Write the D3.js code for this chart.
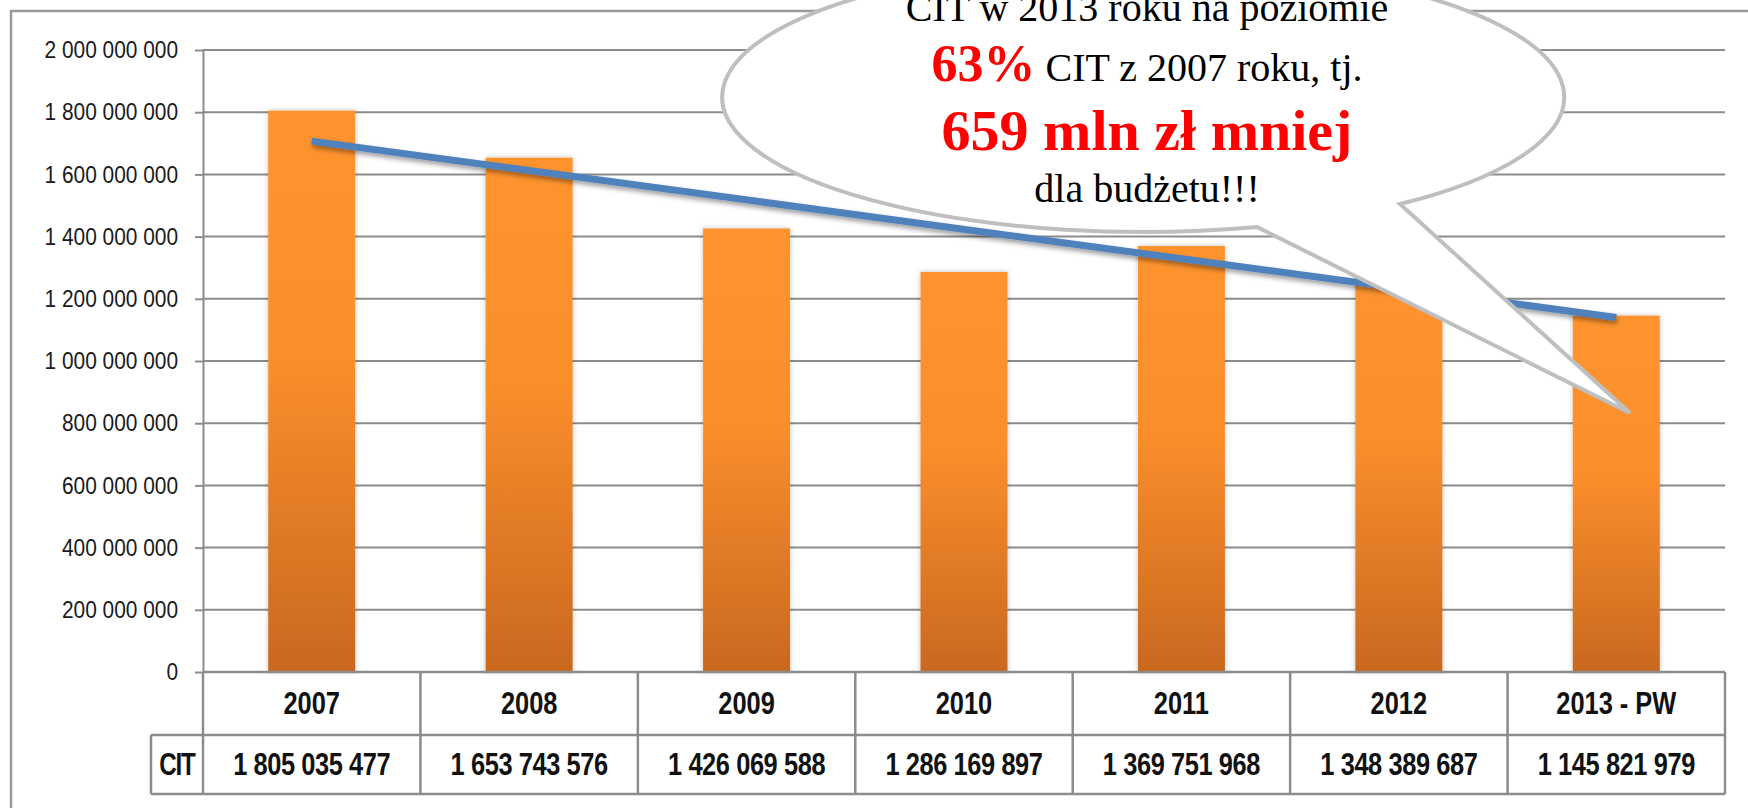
<!DOCTYPE html>
<html>
<head>
<meta charset="utf-8">
<script src="https://cdn.jsdelivr.net/npm/d3@7"></script>
<style>
  html, body { margin: 0; padding: 0; background: #ffffff; }
  svg { display: block; }
</style>
</head>
<body>
<svg id="chart" width="1748" height="808"></svg>
<script>
// ---------------- DATA ----------------
const categories = ["2007", "2008", "2009", "2010", "2011", "2012", "2013 - PW"];
const citValues = [1805035477, 1653743576, 1426069588, 1286169897, 1369751968, 1348389687, 1145821979];
const yTickValues = [0, 200000000, 400000000, 600000000, 800000000, 1000000000,
                     1200000000, 1400000000, 1600000000, 1800000000, 2000000000];
const rowLabel = "CIT";
// trend line end values (at 2007 and at 2013 - PW)
const trendCategories = ["2007", "2013 - PW"];
const trendValues = [1707000000, 1140000000];
const calloutLine1 = "CIT w 2013 roku na poziomie";
const calloutLine2Red = "63%";
const calloutLine2Black = " CIT z 2007 roku, tj.";
const calloutLine3 = "659 mln zł mniej";
const calloutLine4 = "dla budżetu!!!";

// ---------------- LAYOUT ----------------
const W = 1748, H = 808;
const plotLeft = 203, plotRight = 1725, plotTop = 50, plotBottom = 672;
const row1Bottom = 735, row2Bottom = 794, rowLabelLeft = 151;
const sansFont = "'Liberation Sans', Arial, sans-serif";
const serifFont = "'Liberation Serif', 'Times New Roman', serif";
const gridColor = "#8c8c8c";
const narrow = 0.82;      // horizontal squeeze to mimic a condensed face

const locale = d3.formatLocale({ decimal: ",", thousands: " ", grouping: [3], currency: ["", " zł"] });
const fmt = locale.format(",d");

const svg = d3.select("#chart");
const defs = svg.append("defs");

const grad = defs.append("linearGradient")
  .attr("id", "barGrad").attr("x1", 0).attr("y1", 0).attr("x2", 0).attr("y2", 1);
grad.append("stop").attr("offset", "0%").attr("stop-color", "#ff942f");
grad.append("stop").attr("offset", "45%").attr("stop-color", "#f98e2c");
grad.append("stop").attr("offset", "100%").attr("stop-color", "#c9681f");

const barShadow = defs.append("filter").attr("id", "barShadow")
  .attr("x", "-20%").attr("y", "-5%").attr("width", "140%").attr("height", "110%");
barShadow.append("feDropShadow").attr("dx", 0).attr("dy", 0).attr("stdDeviation", 2.5)
  .attr("flood-color", "#000").attr("flood-opacity", 0.25);

const lineShadow = defs.append("filter").attr("id", "lineShadow")
  .attr("x", "-5%").attr("y", "-30%").attr("width", "110%").attr("height", "160%");
lineShadow.append("feDropShadow").attr("dx", 1).attr("dy", 3).attr("stdDeviation", 2.5)
  .attr("flood-color", "#000").attr("flood-opacity", 0.4);

// outer frame (right & bottom edges run off-canvas)
svg.append("rect")
  .attr("x", 11).attr("y", 11).attr("width", 1800).attr("height", 900)
  .attr("fill", "none").attr("stroke", "#9a9a9a").attr("stroke-width", 2.5);

// ---------------- SCALES ----------------
const x = d3.scaleBand().domain(categories).range([plotLeft, plotRight])
  .paddingInner(0.6).paddingOuter(0.3);
const y = d3.scaleLinear().domain([0, 2000000000]).range([plotBottom, plotTop]);
const step = x.step();
const colEdge = i => plotLeft + i * step;

// gridlines
svg.append("g").selectAll("line").data(yTickValues).join("line")
  .attr("x1", plotLeft).attr("x2", plotRight)
  .attr("y1", d => y(d)).attr("y2", d => y(d))
  .attr("stroke", gridColor).attr("stroke-width", 2);

// y axis
const yAxis = d3.axisLeft(y).tickValues(yTickValues).tickFormat(fmt)
  .tickSizeInner(8).tickSizeOuter(0).tickPadding(17);
const yg = svg.append("g").attr("transform", `translate(${plotLeft},0)`).call(yAxis);
yg.select(".domain").attr("stroke", gridColor).attr("stroke-width", 2);
yg.selectAll(".tick line").attr("stroke", gridColor).attr("stroke-width", 2);
yg.selectAll(".tick text")
  .attr("x", null)
  .attr("transform", "translate(-25,0) scale(0.87,1)")
  .attr("font-family", sansFont).attr("font-size", 24).attr("fill", "#1a1a1a");

// bars
svg.append("g").selectAll("rect").data(categories).join("rect")
  .attr("x", d => x(d)).attr("width", x.bandwidth())
  .attr("y", (d, i) => y(citValues[i]))
  .attr("height", (d, i) => y(0) - y(citValues[i]))
  .attr("fill", "url(#barGrad)")
  .attr("filter", "url(#barShadow)");

// trend line
const line = d3.line()
  .x((d, i) => x(trendCategories[i]) + x.bandwidth() / 2)
  .y(d => y(d));
svg.append("path").datum(trendValues)
  .attr("d", line)
  .attr("fill", "none").attr("stroke", "#4f81bd").attr("stroke-width", 7)
  .attr("filter", "url(#lineShadow)");

// ---------------- DATA TABLE ----------------
const tbl = svg.append("g");
const tStroke = "#8c8c8c";
tbl.append("line").attr("x1", plotLeft).attr("x2", plotRight).attr("y1", plotBottom).attr("y2", plotBottom)
  .attr("stroke", tStroke).attr("stroke-width", 2.5);
tbl.append("line").attr("x1", rowLabelLeft).attr("x2", plotRight).attr("y1", row1Bottom).attr("y2", row1Bottom)
  .attr("stroke", tStroke).attr("stroke-width", 2.5);
tbl.append("line").attr("x1", rowLabelLeft).attr("x2", plotRight).attr("y1", row2Bottom).attr("y2", row2Bottom)
  .attr("stroke", tStroke).attr("stroke-width", 2.5);
tbl.selectAll("line.col").data(d3.range(categories.length + 1)).join("line")
  .attr("class", "col")
  .attr("x1", i => colEdge(i)).attr("x2", i => colEdge(i))
  .attr("y1", plotBottom).attr("y2", row2Bottom)
  .attr("stroke", tStroke).attr("stroke-width", 2.5);
tbl.append("line").attr("x1", rowLabelLeft).attr("x2", rowLabelLeft).attr("y1", row1Bottom).attr("y2", row2Bottom)
  .attr("stroke", tStroke).attr("stroke-width", 2.5);

const row1Mid = (plotBottom + row1Bottom) / 2;
const row2Mid = (row1Bottom + row2Bottom) / 2;
const tableFont = 31;
tbl.selectAll("text.cat").data(categories).join("text")
  .attr("class", "cat")
  .attr("transform", d => `translate(${x(d) + x.bandwidth() / 2},${row1Mid + 10}) scale(${narrow},1)`)
  .attr("text-anchor", "middle")
  .attr("font-family", sansFont).attr("font-weight", "bold").attr("font-size", tableFont)
  .attr("fill", "#111").text(d => d);
tbl.selectAll("text.val").data(citValues).join("text")
  .attr("class", "val")
  .attr("transform", (d, i) => `translate(${x(categories[i]) + x.bandwidth() / 2},${row2Mid + 10}) scale(${narrow},1)`)
  .attr("text-anchor", "middle")
  .attr("font-family", sansFont).attr("font-weight", "bold").attr("font-size", tableFont)
  .attr("letter-spacing", -0.5)
  .attr("fill", "#111").text(d => fmt(d));
tbl.append("text")
  .attr("transform", `translate(${(rowLabelLeft + plotLeft) / 2},${row2Mid + 10}) scale(0.78,1)`)
  .attr("text-anchor", "middle")
  .attr("font-family", sansFont).attr("font-weight", "bold").attr("font-size", tableFont)
  .attr("letter-spacing", -1.5)
  .attr("fill", "#111").text(rowLabel);

// ---------------- CALLOUT BUBBLE ----------------
const bubble = { cx: 1148, cy: 95, rx: 421, ry: 135,
                 baseA: [1257, 227], baseB: [1400, 204], tip: [1630, 413] };
const p = d3.path();
p.moveTo(bubble.baseA[0], bubble.baseA[1]);
const bubblePath = p.toString() +
  ` A ${bubble.rx} ${bubble.ry} 0 1 1 ${bubble.baseB[0]} ${bubble.baseB[1]}` +
  ` L ${bubble.tip[0]} ${bubble.tip[1]} Z`;
svg.append("path").attr("d", bubblePath)
  .attr("fill", "#ffffff").attr("stroke", "#bfbfbf").attr("stroke-width", 4)
  .attr("stroke-linejoin", "miter");

const tx = 1147;
svg.append("text").attr("x", tx).attr("y", 21).attr("text-anchor", "middle")
  .attr("font-family", serifFont).attr("font-size", 40).attr("fill", "#000")
  .text(calloutLine1);
const l2 = svg.append("text").attr("x", tx).attr("y", 81).attr("text-anchor", "middle")
  .attr("font-family", serifFont);
l2.append("tspan").attr("font-size", 52).attr("font-weight", "bold").attr("fill", "#ff0000").text(calloutLine2Red);
l2.append("tspan").attr("font-size", 40).attr("fill", "#000").text(calloutLine2Black);
svg.append("text").attr("x", tx).attr("y", 150).attr("text-anchor", "middle")
  .attr("font-family", serifFont).attr("font-size", 58).attr("font-weight", "bold").attr("fill", "#ff0000")
  .text(calloutLine3);
svg.append("text").attr("x", tx).attr("y", 202).attr("text-anchor", "middle")
  .attr("font-family", serifFont).attr("font-size", 40).attr("fill", "#000")
  .text(calloutLine4);
</script>
</body>
</html>
